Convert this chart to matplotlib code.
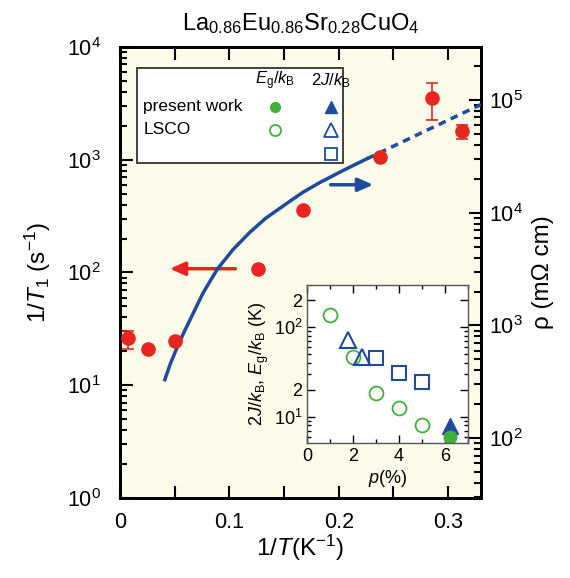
import numpy as np
import matplotlib
matplotlib.use("Agg")
import matplotlib.pyplot as plt
from matplotlib.ticker import FixedLocator, NullFormatter, LogLocator, MultipleLocator

plt.rcParams['font.family'] = ['Liberation Sans', 'DejaVu Sans']
plt.rcParams['mathtext.fontset'] = 'custom'
plt.rcParams['mathtext.rm'] = 'Liberation Sans'
plt.rcParams['mathtext.it'] = 'Liberation Sans:italic'

# 1/T1 data (red)
inv_T = [0.0075, 0.026, 0.050, 0.126, 0.167, 0.238, 0.285, 0.313]
inv_T1 = [26, 21, 24.7, 108, 357, 1050, 3550, 1800]
err_lo = [5, 0, 0, 0, 0, 0, 1300, 280]
err_hi = [4, 0, 0, 0, 0, 0, 1250, 240]

# resistivity curve (blue, right axis), log10(rho)
rho_x = [0.041, 0.046, 0.052, 0.058, 0.064, 0.076, 0.089, 0.103, 0.118, 0.133,
         0.155, 0.167, 0.183, 0.205, 0.226]
rho_log = [2.52, 2.66, 2.80, 2.93, 3.05, 3.29, 3.50, 3.67, 3.82, 3.95,
           4.10, 4.18, 4.27, 4.38, 4.48]
rho_dash_x = [0.226, 0.330]
rho_dash_log = [4.48, 4.96]

# inset data
lsco_eg_p = [1, 2, 3, 4, 5]
lsco_eg = [135, 46.4, 18.5, 12.6, 8.1]
lsco_j_tri_p = [1.8, 2.4]
lsco_j_tri = [72, 46]
lsco_j_sq_p = [3.0, 4.0, 5.0]
lsco_j_sq = [45.6, 31, 24.5]
pw_p = [6.2]
pw_eg = [6.0]
pw_j = [7.9]

red = '#e8251f'
blue = '#1f4b9c'
green = '#3fb23a'
cream = '#fdfbea'

fig = plt.figure(figsize=(5.7, 5.78), dpi=100)
ax = fig.add_axes([0.2105, 0.1384, 0.6334, 0.7803])
ax.set_facecolor(cream)
ax.set_yscale('log')
ax.set_xlim(0, 0.33)
ax.set_ylim(1, 1e4)

ax2 = ax.twinx()
ax2.set_yscale('log')
ax2.set_ylim(10**1.47, 10**5.47)

ax2.plot(rho_x, 10**np.array(rho_log), color=blue, lw=2.5, zorder=3)
ax2.plot(rho_dash_x, 10**np.array(rho_dash_log), color=blue, lw=2.5,
         ls=(0, (2.2, 1.6)), zorder=3)

ax2.errorbar(inv_T, inv_T1, yerr=[err_lo, err_hi], fmt='none', ecolor=red,
             elinewidth=1.2, capsize=4, capthick=1.2, zorder=4,
             transform=ax.transData)
ax2.plot(inv_T, inv_T1, 'o', color=red, ms=9.5, zorder=5, transform=ax.transData)

# arrows
ax.annotate('', xy=(0.043, 108), xytext=(0.108, 108),
            arrowprops=dict(arrowstyle='-|>,head_length=0.9,head_width=0.4',
                            color=red, lw=2.5), zorder=6)
ax.annotate('', xy=(0.234, 600), xytext=(0.190, 600),
            arrowprops=dict(arrowstyle='-|>,head_length=0.9,head_width=0.4',
                            color=blue, lw=2.5), zorder=6)

# axes styling
for a in (ax, ax2):
    for s in a.spines.values():
        s.set_linewidth(2)
ax.xaxis.set_minor_locator(MultipleLocator(0.05))
ax.set_xticks([0, 0.1, 0.2, 0.3])
ax.set_xticklabels(['0', '0.1', '0.2', '0.3'])
ax.tick_params(axis='x', which='both', direction='in', top=True, length=9, width=1.5,
               labelsize=15.5, pad=10)
ax.tick_params(axis='y', which='major', direction='in', length=9, width=1.5,
               labelsize=15.5, right=False, pad=14)
ax.tick_params(axis='y', which='minor', direction='in', length=5, width=1.5, right=False)
ax.yaxis.set_major_locator(LogLocator(base=10, numticks=10))
ax.yaxis.set_minor_locator(LogLocator(base=10, subs=np.arange(2, 10), numticks=10))
ax.yaxis.set_minor_formatter(NullFormatter())

ax2.tick_params(axis='y', which='major', direction='in', length=9, width=1.5,
                labelsize=15.5, pad=6)
ax2.tick_params(axis='y', which='minor', direction='in', length=5, width=1.5)
ax2.yaxis.set_major_locator(LogLocator(base=10, numticks=10))
ax2.yaxis.set_minor_locator(LogLocator(base=10, subs=np.arange(2, 10), numticks=10))
ax2.yaxis.set_minor_formatter(NullFormatter())

ax.set_xlabel(r'1/$\it{T}$(K$^{-1}$)', fontsize=17.5, labelpad=0)
ax.set_ylabel(r'1/$\it{T}_1$ (s$^{-1}$)', fontsize=17.5, labelpad=10)
ax2.set_ylabel('ρ (mΩ cm)', fontsize=17.5, labelpad=6)

ax.set_title(r'La$_{0.86}$Eu$_{0.86}$Sr$_{0.28}$CuO$_4$', fontsize=17, pad=12)

# legend box
box = plt.Rectangle((0.048, 0.742), 0.57, 0.212, transform=ax.transAxes,
                    facecolor='white', edgecolor='#333333', lw=1.3, zorder=7)
ax.add_patch(box)
ax.text(0.43, 0.925, r'$\it{E}_{\rm g}/\it{k}_{\rm B}$', transform=ax.transAxes,
        fontsize=12, ha='center', va='center', zorder=8)
ax.text(0.585, 0.925, r'2$\it{J}/\it{k}_{\rm B}$', transform=ax.transAxes,
        fontsize=12, ha='center', va='center', zorder=8)
ax.text(0.065, 0.867, 'present work', transform=ax.transAxes, fontsize=12.5,
        va='center', zorder=8)
ax.text(0.065, 0.816, 'LSCO', transform=ax.transAxes, fontsize=12.5,
        va='center', zorder=8)
ax.plot([0.43], [0.867], 'o', color=green, ms=7, transform=ax.transAxes, zorder=8)
ax.plot([0.585], [0.867], '^', color=blue, ms=9, transform=ax.transAxes, zorder=8)
ax.plot([0.43], [0.816], 'o', mfc='none', mec=green, mew=1.3, ms=8,
        transform=ax.transAxes, zorder=8)
ax.plot([0.585], [0.816], '^', mfc='none', mec=blue, mew=1.3, ms=10,
        transform=ax.transAxes, zorder=8)
ax.plot([0.585], [0.763], 's', mfc='none', mec=blue, mew=1.3, ms=9,
        transform=ax.transAxes, zorder=8)

# inset
ins = fig.add_axes([0.5386, 0.2336, 0.2825, 0.2733])
ins.set_yscale('log')
ins.set_xlim(0, 7)
ins.set_ylim(5.1, 295)
ins.plot(lsco_eg_p, lsco_eg, 'o', mfc='none', mec=green, mew=1.3, ms=10)
ins.plot(lsco_j_tri_p, lsco_j_tri, '^', mfc='none', mec=blue, mew=1.5, ms=11)
ins.plot(lsco_j_sq_p, lsco_j_sq, 's', mfc='none', mec=blue, mew=1.5, ms=10)
ins.plot(pw_p, pw_j, '^', color=blue, ms=11)
ins.plot(pw_p, pw_eg, 'o', color=green, ms=9)
for s in ins.spines.values():
    s.set_linewidth(1.0)
    s.set_color('#555555')
ins.set_xticks([0, 2, 4, 6])
ins.xaxis.set_minor_locator(MultipleLocator(1))
ins.yaxis.set_major_locator(FixedLocator([10, 20, 100, 200]))
ins.set_yticklabels(['10$^1$', '2', '10$^2$', '2'])
ins.yaxis.set_minor_locator(FixedLocator([6, 7, 8, 9, 30, 40, 50, 60, 70, 80, 90]))
ins.yaxis.set_minor_formatter(NullFormatter())
ins.tick_params(which='major', direction='in', top=True, right=True, length=6,
                width=1, labelsize=13)
ins.tick_params(which='minor', direction='in', top=True, right=True, length=3, width=1)
ins.set_xlabel(r'$\it{p}$(%)', fontsize=13, labelpad=2)
ins.set_ylabel(r'2$\it{J}/\it{k}_{\rm B}$, $\it{E}_{\rm g}/\it{k}_{\rm B}$ (K)',
               fontsize=13, labelpad=2)

fig.savefig('out.png', dpi=100)
